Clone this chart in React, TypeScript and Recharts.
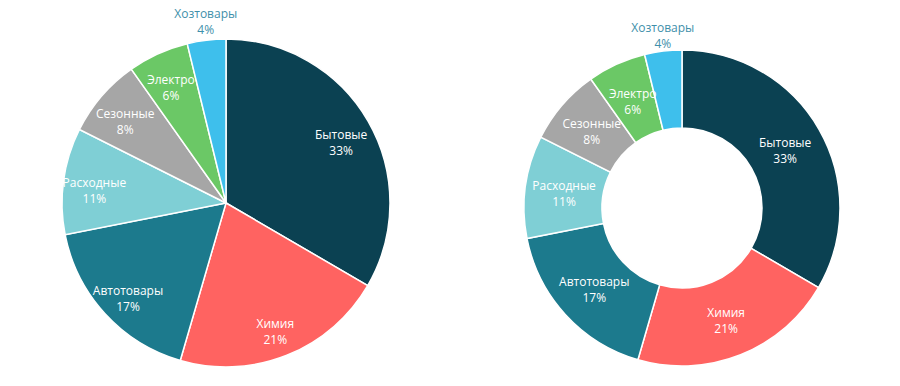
import React from "react";
import { PieChart, Pie, Cell } from "recharts";

const categories = ["Бытовые", "Химия", "Автотовары", "Расходные", "Сезонные", "Электро", "Хозтовары"];
const shares = [33.4, 21.1, 17.4, 10.5, 7.8, 6.0, 3.8];
const colors = ["#0B4152", "#FF6361", "#1C7A8D", "#7FCFD5", "#A6A6A6", "#6BC866", "#3EBFEC"];
const outsideLabelColor = "#3E8FAA";

const data = categories.map((name, i) => ({ name, value: shares[i] }));

const RAD = Math.PI / 180;

const makeLabel = (insideFactor: number, outsideOffset: number, firstDy: number) => (props: any) => {
  const { cx, cy, midAngle, innerRadius, outerRadius, index } = props;
  const outside = index === categories.length - 1;
  let r: number;
  if (outside) {
    r = outerRadius + outsideOffset;
  } else if (innerRadius > 0) {
    r = (innerRadius + outerRadius) / 2;
  } else {
    r = outerRadius * insideFactor;
  }
  const x = cx + r * Math.cos(-midAngle * RAD);
  const y = cy + r * Math.sin(-midAngle * RAD);
  const fill = outside ? outsideLabelColor : "#FFFFFF";
  const dy1 = outside ? -16 : firstDy;
  return (
    <text
      x={x}
      y={y}
      fill={fill}
      textAnchor="middle"
      fontFamily="'Open Sans', sans-serif"
      fontSize={12}
    >
      <tspan x={x} dy={dy1}>{categories[index]}</tspan>
      <tspan x={x} dy={16}>{Math.round(shares[index])}%</tspan>
    </text>
  );
};

export default function App() {
  return (
    <div style={{ position: "absolute", left: 0, top: 0, width: 900, height: 386, background: "#fff" }}>
      <PieChart width={900} height={386} margin={{ top: 0, right: 0, bottom: 0, left: 0 }}>
        <Pie
          data={data}
          dataKey="value"
          nameKey="name"
          cx={226}
          cy={203}
          outerRadius={164}
          startAngle={90}
          endAngle={-270}
          stroke="#FFFFFF"
          strokeWidth={1.5}
          labelLine={false}
          label={makeLabel(0.81, 6, 2)}
          isAnimationActive={false}
        >
          {data.map((d, i) => (
            <Cell key={d.name} fill={colors[i]} />
          ))}
        </Pie>
        <Pie
          data={data}
          dataKey="value"
          nameKey="name"
          cx={682}
          cy={208}
          innerRadius={80}
          outerRadius={158}
          startAngle={90}
          endAngle={-270}
          stroke="#FFFFFF"
          strokeWidth={1.5}
          labelLine={false}
          label={makeLabel(0.8, 3, -2)}
          isAnimationActive={false}
        >
          {data.map((d, i) => (
            <Cell key={d.name} fill={colors[i]} />
          ))}
        </Pie>
      </PieChart>
    </div>
  );
}
